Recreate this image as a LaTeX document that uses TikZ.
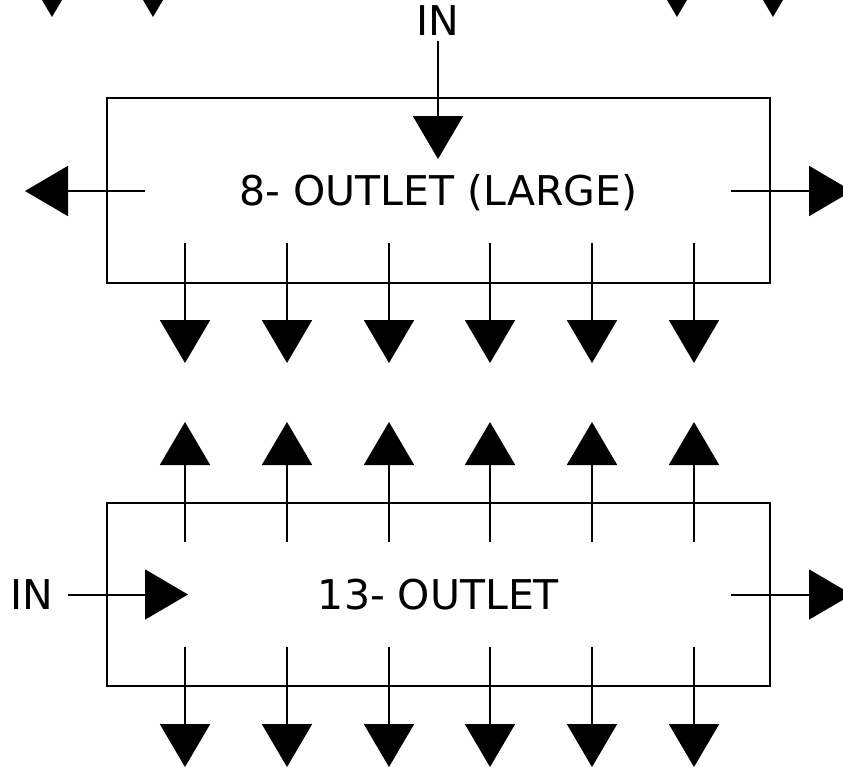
\documentclass[tikz,border=0pt]{standalone}
\usepackage{fontspec}
\setmainfont{DejaVu Sans}
\usetikzlibrary{arrows.meta}
\tikzset{box/.style={draw,rectangle,minimum width=331.5pt,inner sep=0pt,text height=14.6pt,text depth=0pt},
  tag/.style={inner xsep=7pt,inner ysep=2pt,text height=14.6pt,text depth=0pt},
  arr/.style={-{Triangle[width=25pt,length=21.5pt]}}}

\begin{document}
\begin{tikzpicture}[x=0.5pt,y=-0.5pt,line width=1pt,font=\fontsize{20.5}{24}\selectfont]
\useasboundingbox (0,0) rectangle (843,767);
\clip (0,0) rectangle (843,767);

% boxes
\node[box, minimum height=92.5pt] (large) at (438.5,190.5) {8- OUTLET (LARGE)};
\node[box, minimum height=91.5pt] (small) at (438.5,594.5) {13- OUTLET};

% inlets
\node[tag] (in1) at (438,21) {IN};
\node[tag] (in2) at (32,594.5) {IN};
\coordinate (in1e) at (438,159);
\coordinate (in2e) at (188,594.5);

% side outlets
\coordinate (l1) at (145,191);   \coordinate (l1e) at (25,191);
\coordinate (r1) at (731,191);   \coordinate (r1e) at (852,191);
\coordinate (r2) at (731,594.5); \coordinate (r2e) at (852,594.5);

% outlets from the box above (cut off)
\coordinate (u1) at (52,-60);  \coordinate (u1e) at (52,17);
\coordinate (u2) at (153,-60); \coordinate (u2e) at (153,17);
\coordinate (u3) at (677,-60); \coordinate (u3e) at (677,17);
\coordinate (u4) at (773,-60); \coordinate (u4e) at (773,17);

% bottom outlets of the large box
\coordinate (a1) at (185,243); \coordinate (a1e) at (185,363);
\coordinate (a2) at (287,243); \coordinate (a2e) at (287,363);
\coordinate (a3) at (389,243); \coordinate (a3e) at (389,363);
\coordinate (a4) at (490,243); \coordinate (a4e) at (490,363);
\coordinate (a5) at (592,243); \coordinate (a5e) at (592,363);
\coordinate (a6) at (694,243); \coordinate (a6e) at (694,363);

% top outlets of the small box
\coordinate (b1) at (185,542); \coordinate (b1e) at (185,422);
\coordinate (b2) at (287,542); \coordinate (b2e) at (287,422);
\coordinate (b3) at (389,542); \coordinate (b3e) at (389,422);
\coordinate (b4) at (490,542); \coordinate (b4e) at (490,422);
\coordinate (b5) at (592,542); \coordinate (b5e) at (592,422);
\coordinate (b6) at (694,542); \coordinate (b6e) at (694,422);

% bottom outlets of the small box
\coordinate (c1) at (185,647); \coordinate (c1e) at (185,767);
\coordinate (c2) at (287,647); \coordinate (c2e) at (287,767);
\coordinate (c3) at (389,647); \coordinate (c3e) at (389,767);
\coordinate (c4) at (490,647); \coordinate (c4e) at (490,767);
\coordinate (c5) at (592,647); \coordinate (c5e) at (592,767);
\coordinate (c6) at (694,647); \coordinate (c6e) at (694,767);

% arrows
\draw[arr] (in1) -- (in1e);
\draw[arr] (in2) -- (in2e);

\draw[arr] (l1) -- (l1e);
\draw[arr] (r1) -- (r1e);
\draw[arr] (r2) -- (r2e);

\draw[arr] (u1) -- (u1e);
\draw[arr] (u2) -- (u2e);
\draw[arr] (u3) -- (u3e);
\draw[arr] (u4) -- (u4e);

\draw[arr] (a1) -- (a1e);
\draw[arr] (a2) -- (a2e);
\draw[arr] (a3) -- (a3e);
\draw[arr] (a4) -- (a4e);
\draw[arr] (a5) -- (a5e);
\draw[arr] (a6) -- (a6e);

\draw[arr] (b1) -- (b1e);
\draw[arr] (b2) -- (b2e);
\draw[arr] (b3) -- (b3e);
\draw[arr] (b4) -- (b4e);
\draw[arr] (b5) -- (b5e);
\draw[arr] (b6) -- (b6e);

\draw[arr] (c1) -- (c1e);
\draw[arr] (c2) -- (c2e);
\draw[arr] (c3) -- (c3e);
\draw[arr] (c4) -- (c4e);
\draw[arr] (c5) -- (c5e);
\draw[arr] (c6) -- (c6e);
\end{tikzpicture}
\end{document}
